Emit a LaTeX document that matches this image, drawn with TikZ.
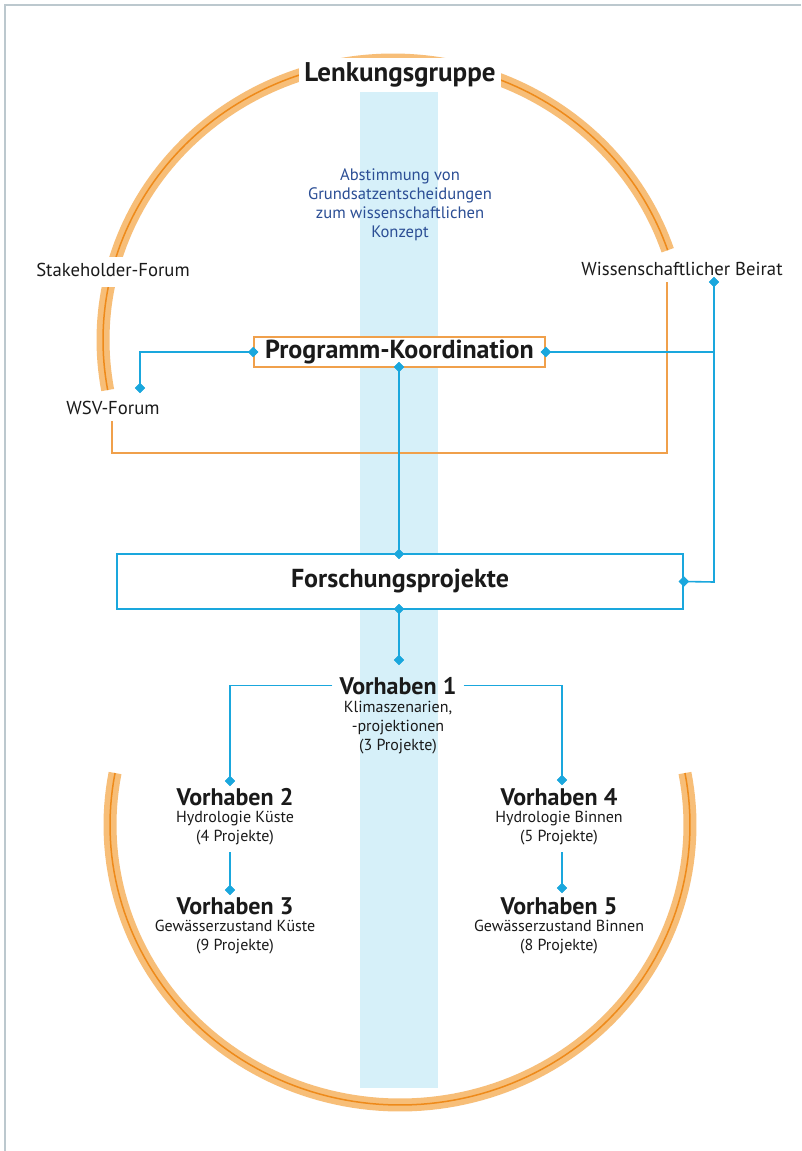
\documentclass[tikz,border=0pt]{standalone}
\usepackage{fontspec}
\setmainfont{PT Sans}
\usetikzlibrary{shapes.geometric}
\definecolor{orlight}{HTML}{F7BE78}
\definecolor{ordark}{HTML}{EE8A1A}
\definecolor{orbox}{HTML}{F0A04B}
\definecolor{cyanline}{HTML}{1AA7DD}
\definecolor{strip}{HTML}{D6F0F9}
\definecolor{bluetext}{HTML}{2B4E95}
\definecolor{txt}{HTML}{1A1A1A}
\definecolor{frame}{HTML}{BCC8CE}
\tikzset{
  band/.style={orlight, line width=13pt},
  bandline/.style={ordark, line width=1.5pt},
  conn/.style={cyanline, line width=1.6pt},
  orconn/.style={orbox, line width=1.6pt},
  dia/.style={diamond, fill=cyanline, inner sep=0pt, minimum size=10pt},
  lbl/.style={text=txt, font=\fontsize{18.7}{22}\selectfont, anchor=base, inner sep=2pt},
  vtitle/.style={text=txt, font=\fontsize{24}{27}\selectfont\bfseries, anchor=base, inner sep=2pt},
  vsub/.style={text=txt, font=\fontsize{16}{19}\selectfont, anchor=base, inner sep=1pt},
  btxt/.style={text=bluetext, font=\fontsize{16.6}{19.3}\selectfont, align=center, anchor=north, inner sep=0pt},
}
\begin{document}
\begin{tikzpicture}[x=1pt,y=-1pt]
\useasboundingbox (0,0) rectangle (801,1151);
\fill[white] (0,0) rectangle (801,1151);
% frame
\draw[frame, line width=2.5pt] (5,1151) -- (5,5) -- (801,5);
% blue strip
\fill[strip] (360,92) rectangle (438,1088);
% arcs
\draw[band] plot[domain=18.7:190.3, samples=120] ({393+290*cos(\x)},{340-280*sin(\x)});
\draw[bandline] plot[domain=18.7:190.3, samples=120] ({393+290*cos(\x)},{340-280*sin(\x)});
\draw[band] plot[domain=169.3:370.7, samples=120] ({400+290*cos(\x)},{825-280*sin(\x)});
\draw[bandline] plot[domain=169.3:370.7, samples=120] ({400+290*cos(\x)},{825-280*sin(\x)});
% labels
\node[fill=white, inner xsep=5pt, inner ysep=4pt, anchor=base, text=txt, font=\fontsize{27}{30}\selectfont\bfseries] (lenk) at (400,81) {Lenkungsgruppe};
\node[lbl, fill=white, minimum height=30pt, text depth=6pt] (stake) at (113,276) {Stakeholder-Forum};
\node[lbl] (wsv) at (113,414) {WSV-Forum};
\node[lbl] (wiss) at (682,275) {Wissenschaftlicher Beirat};
\node[btxt] (abst) at (400,168) {Abstimmung von\\Grundsatzentscheidungen\\zum wissenschaftlichen\\Konzept};
% Programm-Koordination
\node[draw=orbox, line width=1.6pt, fill=white, minimum width=291pt, minimum height=30pt, inner sep=0pt, text=txt, font=\fontsize{26}{28}\selectfont\bfseries] (pk) at (399.5,352) {Programm-Koordination};
% Forschungsprojekte
\node[draw=cyanline, line width=1.6pt, fill=white, minimum width=566pt, minimum height=55pt, inner sep=0pt, text=txt, font=\fontsize{26}{28}\selectfont\bfseries] (fp) at (400,581.5) {Forschungsprojekte};
% Vorhaben
\node[vtitle, inner xsep=7pt] (v1) at (398,694) {Vorhaben 1};
\node[vsub] (v1a) at (398,712) {Klimaszenarien,};
\node[vsub] (v1b) at (398,731) {-projektionen};
\node[vsub] (v1c) at (398,750) {(3 Projekte)};
\node[vtitle] (v2) at (235,805) {Vorhaben 2};
\node[vsub] (v2a) at (235,822) {Hydrologie Küste};
\node[vsub] (v2b) at (235,841) {(4 Projekte)};
\node[vtitle] (v3) at (235,914) {Vorhaben 3};
\node[vsub] (v3a) at (235,931) {Gewässerzustand Küste};
\node[vsub] (v3b) at (235,950) {(9 Projekte)};
\node[vtitle] (v4) at (559,805) {Vorhaben 4};
\node[vsub] (v4a) at (559,822) {Hydrologie Binnen};
\node[vsub] (v4b) at (559,841) {(5 Projekte)};
\node[vtitle] (v5) at (559,914) {Vorhaben 5};
\node[vsub] (v5a) at (559,931) {Gewässerzustand Binnen};
\node[vsub] (v5b) at (559,950) {(8 Projekte)};
% orange connector WSV - Beirat
\coordinate (wsvbot) at (112,421);
\coordinate (wissbot) at (667,282);
\draw[orconn] (wsvbot) -- (112,453) -| (wissbot);
% diamonds
\node[dia] (d1) at (pk.west) {};
\node[dia] (d2) at (140,388) {};
\node[dia] (d3) at (pk.east) {};
\node[dia] (d4) at (714,282) {};
\node[dia] (d5) at (fp.east) {};
\node[dia] (d6) at (399,367) {};
\node[dia] (d7) at (399,554) {};
\node[dia] (d8) at (399,609) {};
\node[dia] (d9) at (399,660) {};
\node[dia] (d10) at (230,781) {};
\node[dia] (d11) at (562,780) {};
\node[dia] (d12) at (230,890) {};
\node[dia] (d13) at (562,888) {};
\coordinate (j1) at (714,352);
\coordinate (j2) at (714,582);
\coordinate (s12) at (230,852);
\coordinate (s13) at (562,852);
% cyan connectors
\draw[conn] (d1.center) -| (d2.center);
\draw[conn] (d3.center) -- (j1);
\draw[conn] (d4.center) -- (j2) -- (d5.center);
\draw[conn] (d6.center) -- (d7.center);
\draw[conn] (d8.center) -- (d9.center);
\draw[conn] (v1.west) -| (d10.center);
\draw[conn] (v1.east) -| (d11.center);
\draw[conn] (s12) -- (d12.center);
\draw[conn] (s13) -- (d13.center);
% redraw diamonds on top
\foreach \d in {d1,d2,d3,d4,d5,d6,d7,d8,d9,d10,d11,d12,d13} \fill[cyanline] (\d.north) -- (\d.east) -- (\d.south) -- (\d.west) -- cycle;
\end{tikzpicture}
\end{document}
